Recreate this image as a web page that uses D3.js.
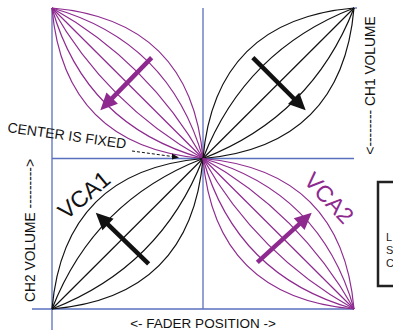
<!DOCTYPE html>
<html>
<head>
<meta charset="utf-8">
<title>VCA crossfade</title>
<script src="https://d3js.org/d3.v7.min.js"></script>
<style>
  body { margin: 0; background: #fff; }
  text { font-family: 'Liberation Sans', Arial, sans-serif; }
</style>
</head>
<body>
<svg id="chart"></svg>
<script>
// fader / volume space is -1..1 on both axes, centre (0,0) is the fixed point
var quadStarts = [[-1, 1], [0, 0], [-1, -1], [0, 0]];
var quadEnds   = [[0, 0], [1, 1], [0, 0], [1, -1]];
var quadFamily = ['VCA2', 'VCA1', 'VCA1', 'VCA2'];

// bend of each law away from the straight line (mid point offset)
var vca1Bends = [-0.21, -0.11, 0, 0.11, 0.21];
var vca2Bends = [-0.21, -0.14, -0.07, 0, 0.07, 0.14, 0.21];

var arrowTails  = [[-0.34, 0.67], [0.33, 0.67], [-0.36, -0.70], [0.36, -0.69]];
var arrowTips   = [[-0.68, 0.32], [0.68, 0.32], [-0.71, -0.36], [0.72, -0.36]];
var arrowFamily = ['VCA2', 'VCA1', 'VCA1', 'VCA2'];

var faderLabel = '<- FADER POSITION ->';
var ch1Label = '<-------- CH1 VOLUME';
var ch2Label = 'CH2 VOLUME --------->';
var centerLabel = 'CENTER IS FIXED';
var vcaLabels = ['VCA1', 'VCA2'];
var boxLines = ['L', 'S', 'C'];

var width = 393, height = 330;
var blue = '#5a6fbe', purple = '#8e2a8f', black = '#111';
var colorOf = { VCA1: black, VCA2: purple };

var svg = d3.select('#chart')
    .attr('width', width)
    .attr('height', height);

var x = d3.scaleLinear().domain([-1, 1]).range([52, 354]);
var y = d3.scaleLinear().domain([-1, 1]).range([309, 8]);

// blue frame lines
var frame = [
    [x(-1), y(1), x(-1), height],
    [32, y(-1), x(1), y(-1)],
    [x(0), y(1), x(0), y(-1)],
    [x(-1), y(0), x(1), y(0)],
    [x(1) - 1, y(1), x(1) + 3, y(1)]
];
svg.selectAll('line.frame')
    .data(frame)
    .enter()
    .append('line')
    .attr('class', 'frame')
    .attr('x1', function(d) { return d[0]; })
    .attr('y1', function(d) { return d[1]; })
    .attr('x2', function(d) { return d[2]; })
    .attr('y2', function(d) { return d[3]; })
    .attr('stroke', blue)
    .attr('stroke-width', 1.3);

// gain laws, one quadratic curve per bend value
var curves = [];
for (var q = 0; q < quadStarts.length; q += 1) {
    var bends = quadFamily[q] == 'VCA1' ? vca1Bends : vca2Bends;
    for (var i = 0; i < bends.length; i += 1) {
        curves.push({ s: quadStarts[q], e: quadEnds[q], b: bends[i], fam: quadFamily[q] });
    }
}

function curvePath(d) {
    var dx = d.e[0] - d.s[0], dy = d.e[1] - d.s[1];
    var cx = (d.s[0] + d.e[0]) / 2 - 2 * d.b * dy;
    var cy = (d.s[1] + d.e[1]) / 2 + 2 * d.b * dx;
    var p = d3.path();
    p.moveTo(x(d.s[0]), y(d.s[1]));
    p.quadraticCurveTo(x(cx), y(cy), x(d.e[0]), y(d.e[1]));
    return p.toString();
}

svg.selectAll('path.law')
    .data(curves)
    .enter()
    .append('path')
    .attr('class', 'law')
    .attr('d', curvePath)
    .attr('fill', 'none')
    .attr('stroke', function(d) { return colorOf[d.fam]; })
    .attr('stroke-width', 1.2);

// thick arrows
for (var a = 0; a < arrowTails.length; a += 1) {
    var x1 = x(arrowTails[a][0]), y1 = y(arrowTails[a][1]);
    var x2 = x(arrowTips[a][0]), y2 = y(arrowTips[a][1]);
    var len = Math.sqrt((x2 - x1) * (x2 - x1) + (y2 - y1) * (y2 - y1));
    var ux = (x2 - x1) / len, uy = (y2 - y1) / len;
    var headLen = 17, headW = 8;
    var col = colorOf[arrowFamily[a]];
    svg.append('line')
        .attr('x1', x1).attr('y1', y1)
        .attr('x2', x2 - ux * (headLen - 2)).attr('y2', y2 - uy * (headLen - 2))
        .attr('stroke', col)
        .attr('stroke-width', 4.5);
    var bx = x2 - ux * headLen, by = y2 - uy * headLen;
    svg.append('polygon')
        .attr('points', [
            [x2, y2],
            [bx - uy * headW, by + ux * headW],
            [bx + uy * headW, by - ux * headW]
        ].join(' '))
        .attr('fill', col);
}

// axis titles
svg.append('text')
    .attr('x', x(0))
    .attr('y', 328)
    .attr('text-anchor', 'middle')
    .attr('font-size', 13.5)
    .attr('fill', '#111')
    .text(faderLabel);

svg.append('text')
    .attr('transform', 'translate(375,' + (y(0) - 73) + ') rotate(-90)')
    .attr('text-anchor', 'middle')
    .attr('font-size', 13.8)
    .attr('fill', '#111')
    .text(ch1Label);

svg.append('text')
    .attr('transform', 'translate(35,' + (y(0) + 72) + ') rotate(-90)')
    .attr('text-anchor', 'middle')
    .attr('font-size', 13.8)
    .attr('fill', '#111')
    .text(ch2Label);

// centre note with dashed pointer
svg.append('text')
    .attr('transform', 'translate(7,132) rotate(8)')
    .attr('font-size', 14)
    .attr('fill', '#111')
    .text(centerLabel);

svg.append('line')
    .attr('x1', 132).attr('y1', 151)
    .attr('x2', x(0) - 27).attr('y2', y(0) - 1.5)
    .attr('stroke', '#111')
    .attr('stroke-width', 1)
    .attr('stroke-dasharray', '3,2');
svg.append('polygon')
    .attr('points', [[x(0) - 24, y(0) - 1], [x(0) - 31, y(0) - 5], [x(0) - 31, y(0) + 1]].join(' '))
    .attr('fill', '#111');

// VCA names
svg.append('text')
    .attr('transform', 'translate(84,195) rotate(-40)')
    .attr('text-anchor', 'middle')
    .attr('dominant-baseline', 'central')
    .attr('font-size', 23)
    .attr('fill', black)
    .text(vcaLabels[0]);

svg.append('text')
    .attr('transform', 'translate(329,198) rotate(47)')
    .attr('text-anchor', 'middle')
    .attr('dominant-baseline', 'central')
    .attr('font-size', 23)
    .attr('fill', purple)
    .text(vcaLabels[1]);

// box cut off at the right edge
svg.append('rect')
    .attr('x', 378)
    .attr('y', 182)
    .attr('width', 40)
    .attr('height', 104)
    .attr('fill', 'none')
    .attr('stroke', '#222')
    .attr('stroke-width', 2.5);

svg.selectAll('text.box')
    .data(boxLines)
    .enter()
    .append('text')
    .attr('class', 'box')
    .attr('x', 386)
    .attr('y', function(d, i) { return 241 + i * 13; })
    .attr('font-size', 11)
    .attr('fill', '#222')
    .text(function(d) { return d; });
</script>
</body>
</html>
